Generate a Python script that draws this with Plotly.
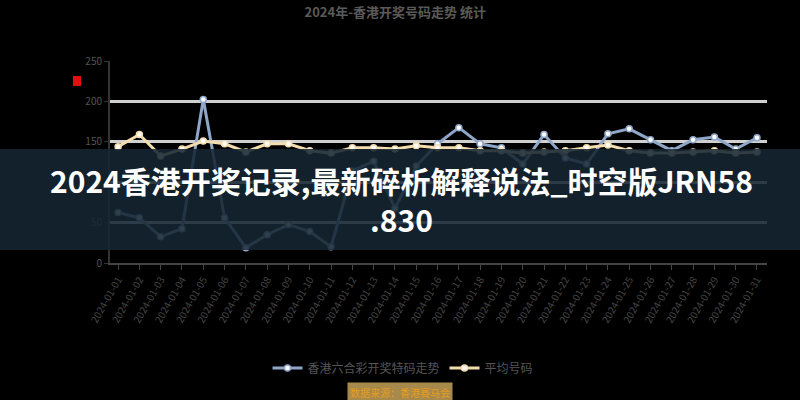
import plotly.graph_objects as go

dates = [f"2024-01-{d:02d}" for d in range(1, 32)]
series_a_name = "香港六合彩开奖特码走势"
series_b_name = "平均号码"
series_a = [62.5, 56, 32.5, 42.5, 202.5, 56, 19, 35, 47.5, 39, 20, 114, 126, 67.5, 120,
            147.5, 167.5, 147.5, 142.5, 122.5, 159, 130, 122.5, 160, 166, 152.5, 139, 152.5,
            156, 141, 155]
series_b = [144, 159, 132.5, 141, 151, 147.5, 137.5, 147.5, 147.5, 139, 136, 142.5, 142.5,
            141, 145, 142.5, 142.5, 139, 139, 136, 137.5, 139, 142.5, 146, 139, 136, 136,
            137.5, 139, 136, 137.5]
y_ticks = [0, 50, 100, 150, 200, 250]
title_text = "2024年-香港开奖号码走势 统计"
banner_text = "2024香港开奖记录,最新碎析解释说法_时空版JRN58<br>.830"
source_text = "数据来源：香港赛马会"

W, H = 800, 400
L, R, T, B = 110, 33, 61, 137
pw, ph = W - L - R, H - T - B


def px(x):
    return (x - L) / pw


def py(y):
    return (H - B - y) / ph


fig = go.Figure()
fig.add_trace(go.Scatter(
    x=dates, y=series_a, name=series_a_name, mode="lines+markers",
    line=dict(color="#8ea6c8", width=3),
    marker=dict(size=6, color="#ffffff", line=dict(color="#8ea6c8", width=1.5)),
))
fig.add_trace(go.Scatter(
    x=dates, y=series_b, name=series_b_name, mode="lines+markers",
    line=dict(color="#f3dcae", width=3),
    marker=dict(size=6, color="#ffffff", line=dict(color="#f3dcae", width=1.5)),
))

fig.update_layout(
    width=W, height=H,
    margin=dict(l=L, r=R, t=T, b=B),
    paper_bgcolor="#000000", plot_bgcolor="#000000",
    font=dict(family="Noto Sans CJK SC", color="#555555"),
    title=dict(text=title_text, x=0.494, xref="container", xanchor="center",
               y=0.97, yref="container", yanchor="middle",
               font=dict(size=13, color="#5a5a5a", family="Noto Sans CJK SC", weight="bold")),
    showlegend=True,
    legend=dict(orientation="h", x=px(403), xanchor="center", y=py(368), yanchor="middle",
                font=dict(size=12, color="#555555"), bgcolor="rgba(0,0,0,0)"),
    xaxis=dict(
        type="category", range=[-0.38, 30.47], tickangle=-60,
        tickfont=dict(size=10, color="#444444"),
        showgrid=False, showline=True, linecolor="#444444", linewidth=2,
        ticks="outside", ticklen=5, tickcolor="#444444",
    ),
    yaxis=dict(
        range=[0, 250], tickvals=y_ticks, tickfont=dict(size=10, color="#555555"),
        showgrid=True, gridcolor="#d0d0d0", gridwidth=3, zeroline=False,
        showline=True, linecolor="#333333", linewidth=2,
        ticks="outside", ticklen=4, tickcolor="#333333",
    ),
)

fig.add_shape(type="rect", xref="paper", yref="paper",
              x0=px(73), x1=px(81), y0=py(86), y1=py(76),
              fillcolor="#e01010", line=dict(width=0), layer="above")

fig.add_shape(type="rect", xref="paper", yref="paper",
              x0=px(0), x1=px(800), y0=py(250), y1=py(149),
              fillcolor="rgba(22,38,50,0.88)", line=dict(width=0), layer="above")

fig.add_annotation(text=banner_text, xref="paper", yref="paper",
                   x=px(401), y=py(199), xanchor="center", yanchor="middle",
                   showarrow=False, align="center",
                   font=dict(size=30, color="#ffffff", family="Noto Sans CJK SC", weight="bold"))

fig.add_annotation(text=source_text, xref="paper", yref="paper",
                   x=px(400), y=py(392), xanchor="center", yanchor="middle",
                   showarrow=False, bgcolor="#a8894c", borderpad=2,
                   font=dict(size=10, color="#e69d1c"))

fig.write_html("out.html", config={"displayModeBar": False},
               post_script="document.body.style.margin='0';document.body.style.background='#000';")
